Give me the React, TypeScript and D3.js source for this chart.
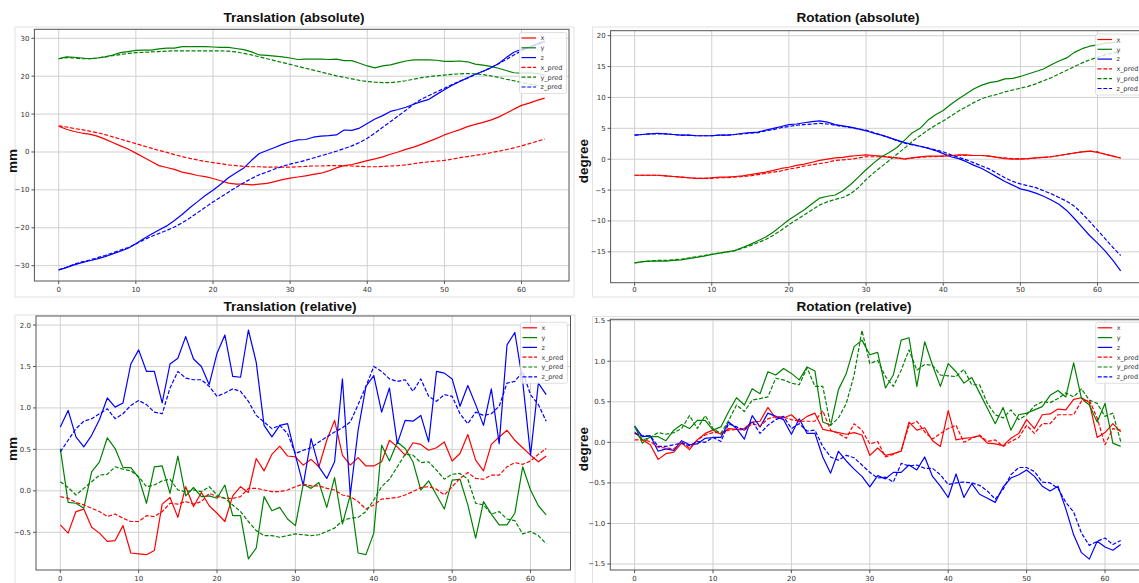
import * as d3 from "d3";

// ---- Translation (absolute), mm, frames 0..63
const transAbsX = [6.8, 6.0, 5.4, 5.0, 4.7, 4.2, 3.4, 2.5, 1.6, 0.8, -0.3, -1.4, -2.5, -3.6, -4.1, -4.6, -5.3, -5.7, -6.2, -6.5, -7.0, -7.6, -8.2, -8.5, -8.5, -8.7, -8.5, -8.3, -7.8, -7.3, -6.9, -6.6, -6.3, -5.9, -5.6, -5.0, -4.2, -3.6, -3.3, -2.8, -2.3, -1.8, -1.3, -0.6, 0.0, 0.7, 1.3, 2.0, 2.8, 3.6, 4.5, 5.2, 5.9, 6.7, 7.3, 7.8, 8.4, 9.2, 10.2, 11.3, 12.3, 12.9, 13.6, 14.2];
const transAbsY = [24.6, 25.1, 25.0, 24.8, 24.6, 24.8, 25.1, 25.6, 26.2, 26.5, 26.8, 26.9, 26.9, 27.2, 27.4, 27.4, 27.8, 27.8, 27.8, 27.8, 27.7, 27.6, 27.6, 27.3, 27.0, 26.4, 25.6, 25.5, 25.3, 25.1, 24.8, 24.4, 24.5, 24.5, 24.5, 24.4, 24.5, 24.1, 24.1, 23.4, 22.7, 22.2, 22.7, 23.0, 23.5, 24.0, 24.3, 24.3, 24.3, 24.2, 23.9, 23.9, 24.0, 23.8, 23.2, 22.9, 22.6, 22.1, 21.5, 20.9, 20.8, 20.9, 20.7, 20.3];
const transAbsZ = [-31.1, -30.5, -29.8, -29.2, -28.7, -28.2, -27.6, -26.9, -26.2, -25.4, -24.2, -22.9, -21.7, -20.6, -19.5, -18.1, -16.5, -14.7, -13.1, -11.5, -10.1, -8.5, -6.8, -5.5, -4.2, -2.2, -0.4, 0.4, 1.2, 2.0, 2.7, 3.2, 3.3, 3.9, 4.2, 4.3, 4.5, 5.8, 5.7, 6.3, 7.5, 8.7, 9.6, 10.7, 11.2, 11.8, 12.6, 13.3, 13.9, 15.2, 16.4, 17.6, 18.6, 19.6, 20.5, 21.3, 22.2, 23.3, 24.9, 26.3, 27.1, 27.6, 28.5, 29.3];
const transAbsXPred = [6.9, 6.6, 6.2, 5.9, 5.5, 5.1, 4.6, 4.0, 3.4, 2.8, 2.2, 1.6, 1.0, 0.4, -0.1, -0.7, -1.2, -1.7, -2.1, -2.5, -2.8, -3.1, -3.4, -3.6, -3.8, -3.9, -3.9, -4.0, -4.0, -4.0, -4.0, -3.9, -3.8, -3.7, -3.7, -3.6, -3.6, -3.6, -3.7, -3.8, -3.9, -3.9, -3.8, -3.7, -3.6, -3.4, -3.1, -2.8, -2.6, -2.4, -2.2, -1.9, -1.5, -1.2, -0.9, -0.6, -0.2, 0.2, 0.6, 1.1, 1.6, 2.2, 2.8, 3.4];
const transAbsYPred = [24.6, 24.9, 24.8, 24.6, 24.6, 24.8, 25.1, 25.4, 25.7, 26.0, 26.2, 26.3, 26.4, 26.5, 26.6, 26.7, 26.7, 26.7, 26.7, 26.7, 26.7, 26.7, 26.6, 26.4, 26.0, 25.6, 25.1, 24.6, 24.1, 23.6, 23.1, 22.6, 22.1, 21.6, 21.1, 20.6, 20.1, 19.7, 19.3, 18.9, 18.6, 18.4, 18.3, 18.3, 18.5, 18.8, 19.2, 19.6, 19.9, 20.1, 20.3, 20.5, 20.6, 20.7, 20.6, 20.4, 20.1, 19.7, 19.2, 18.8, 18.3, 17.9, 17.6, 17.3];
const transAbsZPred = [-31.1, -30.4, -29.6, -29.0, -28.5, -27.9, -27.3, -26.6, -25.9, -25.2, -24.3, -23.2, -22.3, -21.5, -20.7, -19.8, -18.7, -17.4, -16.0, -14.6, -13.2, -11.9, -10.6, -9.3, -8.1, -7.0, -6.0, -5.3, -4.5, -3.8, -3.2, -2.7, -2.2, -1.6, -1.0, -0.4, 0.2, 0.9, 1.6, 2.5, 3.6, 5.0, 6.5, 8.0, 9.5, 11.0, 12.6, 13.9, 14.9, 15.9, 16.8, 17.8, 18.7, 19.5, 20.4, 21.3, 22.2, 23.3, 24.4, 25.6, 26.7, 27.6, 28.4, 29.0];

// ---- Rotation (absolute), degree, frames 0..63
const rotAbsX = [-2.6, -2.6, -2.6, -2.6, -2.7, -2.8, -2.9, -3.0, -3.1, -3.1, -3.0, -2.9, -2.9, -2.8, -2.7, -2.5, -2.3, -2.1, -1.8, -1.5, -1.3, -1.0, -0.8, -0.5, -0.2, 0.0, 0.2, 0.3, 0.5, 0.6, 0.7, 0.6, 0.5, 0.3, 0.2, 0.0, 0.2, 0.4, 0.5, 0.5, 0.5, 0.6, 0.7, 0.7, 0.6, 0.6, 0.5, 0.3, 0.1, 0.0, 0.0, 0.1, 0.2, 0.3, 0.4, 0.6, 0.8, 1.0, 1.2, 1.3, 1.1, 0.8, 0.5, 0.2];
const rotAbsY = [-16.8, -16.6, -16.5, -16.5, -16.5, -16.4, -16.3, -16.1, -15.9, -15.7, -15.4, -15.2, -15.0, -14.8, -14.3, -13.8, -13.2, -12.6, -11.8, -10.8, -9.8, -9.0, -8.2, -7.2, -6.3, -6.0, -5.8, -5.1, -4.1, -2.9, -1.7, -0.6, 0.4, 1.1, 1.9, 3.1, 4.3, 5.0, 6.3, 7.2, 7.9, 8.9, 9.8, 10.6, 11.4, 12.0, 12.4, 12.6, 13.0, 13.1, 13.4, 13.8, 14.2, 14.6, 15.3, 15.9, 16.4, 17.3, 17.9, 18.3, 18.5, 18.8, 18.9, 18.9];
const rotAbsZ = [3.9, 4.0, 4.1, 4.2, 4.1, 4.0, 3.9, 3.9, 3.8, 3.8, 3.8, 3.9, 3.9, 4.0, 4.2, 4.3, 4.4, 4.7, 5.0, 5.3, 5.6, 5.7, 5.9, 6.1, 6.2, 6.0, 5.6, 5.4, 5.2, 4.9, 4.6, 4.2, 3.9, 3.5, 3.1, 2.7, 2.4, 2.1, 1.8, 1.4, 0.9, 0.4, 0.1, -0.4, -1.0, -1.5, -2.2, -2.9, -3.6, -4.2, -4.8, -5.1, -5.5, -6.0, -6.6, -7.3, -8.3, -9.6, -11.0, -12.4, -13.6, -14.9, -16.4, -18.1];
const rotAbsXPred = [-2.6, -2.6, -2.6, -2.6, -2.7, -2.8, -2.9, -3.0, -3.1, -3.1, -3.1, -3.0, -3.0, -2.9, -2.8, -2.7, -2.5, -2.3, -2.1, -1.9, -1.6, -1.4, -1.1, -0.9, -0.7, -0.5, -0.2, -0.1, 0.0, 0.2, 0.4, 0.4, 0.4, 0.4, 0.2, 0.1, 0.2, 0.3, 0.4, 0.4, 0.5, 0.6, 0.6, 0.6, 0.6, 0.6, 0.5, 0.3, 0.2, 0.1, 0.1, 0.1, 0.2, 0.3, 0.4, 0.6, 0.8, 1.0, 1.2, 1.3, 1.2, 0.8, 0.5, 0.2];
const rotAbsYPred = [-16.8, -16.6, -16.5, -16.4, -16.4, -16.3, -16.2, -16.0, -15.8, -15.6, -15.4, -15.2, -15.0, -14.8, -14.4, -14.0, -13.5, -13.0, -12.3, -11.5, -10.6, -9.8, -9.0, -8.2, -7.4, -6.9, -6.5, -6.2, -5.6, -4.6, -3.3, -2.2, -1.2, -0.2, 0.8, 1.8, 2.9, 3.8, 4.7, 5.5, 6.2, 7.0, 7.8, 8.5, 9.2, 9.8, 10.2, 10.5, 10.9, 11.2, 11.5, 11.8, 12.2, 12.7, 13.2, 13.8, 14.4, 15.0, 15.6, 16.1, 16.5, 16.9, 17.2, 17.5];
const rotAbsZPred = [3.9, 4.0, 4.1, 4.1, 4.1, 4.0, 3.9, 3.9, 3.8, 3.8, 3.8, 3.9, 3.9, 4.0, 4.1, 4.2, 4.3, 4.6, 4.8, 5.1, 5.3, 5.5, 5.6, 5.7, 5.8, 5.7, 5.5, 5.3, 5.1, 4.9, 4.7, 4.3, 3.9, 3.5, 3.0, 2.6, 2.3, 2.1, 1.8, 1.5, 1.2, 0.7, 0.3, -0.1, -0.6, -1.1, -1.6, -2.3, -3.0, -3.6, -4.0, -4.3, -4.6, -5.1, -5.6, -6.2, -6.8, -7.6, -8.8, -10.1, -11.5, -12.9, -14.3, -15.6];

// ---- Translation (relative), mm, frames 0..62
const transRelX = [-0.41, -0.51, -0.25, -0.22, -0.44, -0.51, -0.61, -0.60, -0.42, -0.75, -0.76, -0.77, -0.72, -0.16, -0.08, -0.32, 0.05, -0.19, -0.02, -0.18, -0.27, -0.37, -0.06, 0.05, -0.02, 0.39, 0.24, 0.44, 0.54, 0.42, 0.41, 0.31, 0.38, 0.29, 0.61, 0.85, 0.43, 0.31, 0.40, 0.30, 0.30, 0.35, 0.61, 0.53, 0.43, 0.58, 0.56, 0.49, 0.52, 0.59, 0.36, 0.45, 0.68, 0.37, 0.24, 0.56, 0.65, 0.73, 0.61, 0.52, 0.43, 0.35, 0.42];
const transRelY = [0.51, -0.14, -0.15, -0.21, 0.23, 0.35, 0.64, 0.51, 0.28, 0.28, 0.16, -0.15, 0.29, 0.30, -0.03, 0.42, -0.06, 0.04, -0.07, -0.06, -0.09, 0.07, -0.30, -0.30, -0.82, -0.69, -0.07, -0.24, -0.20, -0.34, -0.42, 0.08, 0.03, 0.10, -0.20, 0.16, -0.40, -0.05, -0.75, -0.77, -0.51, 0.55, 0.36, 0.59, 0.51, 0.35, 0.01, 0.12, -0.05, -0.22, 0.13, 0.14, -0.17, -0.57, -0.13, -0.28, -0.41, -0.41, -0.27, 0.29, 0.01, -0.18, -0.29];
const transRelZ = [0.77, 0.97, 0.65, 0.53, 0.67, 0.86, 1.12, 1.01, 1.06, 1.53, 1.70, 1.44, 1.44, 1.06, 1.53, 1.60, 1.86, 1.59, 1.50, 1.28, 1.66, 1.88, 1.38, 1.37, 1.94, 1.55, 0.79, 0.65, 0.79, 0.81, 0.43, 0.07, 0.63, 0.29, 0.15, 0.35, 1.35, -0.05, 0.73, 1.26, 1.39, 0.95, 1.24, 0.57, 0.85, 0.84, 0.91, 0.59, 1.44, 1.42, 1.35, 1.02, 1.27, 1.04, 0.79, 1.23, 0.57, 1.76, 1.91, 1.32, 0.43, 1.30, 1.16];
const transRelXPred = [-0.07, -0.09, -0.14, -0.17, -0.21, -0.25, -0.31, -0.28, -0.33, -0.37, -0.37, -0.30, -0.31, -0.25, -0.15, -0.16, -0.13, -0.16, -0.13, -0.03, -0.07, -0.09, -0.09, -0.07, 0.03, 0.03, 0.01, -0.01, -0.01, 0.01, 0.05, 0.08, 0.06, 0.06, 0.03, 0.01, -0.05, -0.07, -0.13, -0.22, -0.17, -0.10, -0.09, -0.08, -0.05, -0.01, 0.04, 0.05, 0.02, -0.05, 0.05, 0.15, 0.22, 0.15, 0.14, 0.19, 0.19, 0.29, 0.34, 0.32, 0.36, 0.44, 0.51];
const transRelYPred = [0.11, 0.04, -0.05, 0.03, 0.11, 0.19, 0.20, 0.29, 0.26, 0.24, 0.17, 0.05, 0.07, 0.12, 0.14, 0.01, -0.01, 0.01, -0.01, 0.05, -0.05, -0.09, -0.17, -0.25, -0.37, -0.48, -0.54, -0.54, -0.56, -0.54, -0.52, -0.53, -0.54, -0.53, -0.49, -0.45, -0.36, -0.33, -0.32, -0.25, -0.11, 0.05, 0.14, 0.29, 0.44, 0.43, 0.34, 0.35, 0.25, 0.14, 0.20, 0.21, 0.14, -0.15, -0.17, -0.28, -0.25, -0.34, -0.36, -0.52, -0.49, -0.54, -0.64];
const transRelZPred = [0.47, 0.61, 0.75, 0.84, 0.87, 0.93, 0.99, 0.87, 0.93, 1.03, 1.09, 1.04, 0.95, 0.93, 1.24, 1.44, 1.36, 1.34, 1.34, 1.26, 1.14, 1.18, 1.23, 1.20, 1.08, 0.91, 0.83, 0.75, 0.79, 0.69, 0.45, 0.49, 0.52, 0.59, 0.65, 0.71, 0.76, 0.83, 1.04, 1.26, 1.50, 1.44, 1.35, 1.32, 1.34, 1.20, 1.35, 1.14, 1.08, 1.16, 1.14, 0.93, 0.81, 0.95, 0.91, 0.93, 1.02, 1.30, 1.32, 1.44, 1.16, 1.04, 0.84];

// ---- Rotation (relative), degree, frames 0..62
const rotRelX = [0.13, 0.03, -0.03, -0.21, -0.14, -0.12, -0.01, -0.09, 0.03, 0.11, 0.15, 0.10, 0.17, 0.16, 0.17, 0.25, 0.26, 0.43, 0.30, 0.30, 0.34, 0.25, 0.32, 0.36, 0.16, 0.14, 0.12, 0.10, 0.12, 0.09, -0.16, -0.07, -0.16, -0.14, -0.11, 0.25, 0.15, 0.18, 0.02, -0.05, 0.39, 0.03, 0.05, 0.06, 0.08, -0.01, -0.02, -0.04, 0.05, 0.11, 0.28, 0.17, 0.34, 0.35, 0.41, 0.40, 0.53, 0.55, 0.49, 0.06, 0.12, 0.23, 0.13];
const rotRelY = [0.20, -0.01, 0.07, 0.07, 0.02, 0.15, 0.22, 0.17, 0.27, 0.27, 0.15, 0.19, 0.38, 0.55, 0.46, 0.66, 0.60, 0.87, 0.83, 0.91, 0.85, 0.77, 0.93, 0.88, 0.25, 0.21, 0.65, 0.85, 1.18, 1.26, 1.08, 1.11, 0.67, 0.83, 1.26, 1.29, 0.69, 1.24, 0.95, 0.69, 0.97, 0.87, 0.73, 0.80, 0.61, 0.42, 0.23, 0.43, 0.15, 0.34, 0.36, 0.40, 0.44, 0.58, 0.64, 0.56, 0.98, 0.54, 0.46, 0.25, 0.48, -0.01, -0.05];
const rotRelZ = [0.20, 0.07, 0.08, -0.11, -0.08, -0.10, 0.02, -0.03, -0.02, 0.05, 0.06, 0.06, 0.25, 0.17, 0.04, 0.33, 0.19, 0.36, 0.32, 0.28, 0.10, 0.29, 0.11, 0.11, -0.18, -0.38, -0.11, -0.23, -0.33, -0.42, -0.55, -0.41, -0.45, -0.37, -0.37, -0.28, -0.34, -0.18, -0.42, -0.54, -0.68, -0.39, -0.68, -0.51, -0.64, -0.69, -0.74, -0.55, -0.44, -0.40, -0.34, -0.42, -0.54, -0.60, -0.54, -0.82, -1.14, -1.36, -1.44, -1.22, -1.29, -1.33, -1.26];
const rotRelXPred = [0.03, 0.03, 0.01, -0.06, -0.07, -0.08, 0.01, -0.07, 0.03, 0.09, 0.12, 0.12, 0.15, 0.16, 0.15, 0.23, 0.20, 0.29, 0.32, 0.31, 0.28, 0.26, 0.26, 0.26, 0.39, 0.15, 0.11, 0.05, 0.23, 0.15, -0.02, 0.01, -0.18, -0.15, -0.10, 0.21, 0.26, 0.13, 0.04, 0.11, 0.17, 0.21, 0.00, 0.05, 0.09, 0.01, 0.03, -0.05, 0.01, 0.06, 0.21, 0.11, 0.23, 0.23, 0.34, 0.34, 0.34, 0.51, 0.52, 0.30, -0.03, 0.17, 0.15];
const rotRelYPred = [0.20, 0.03, 0.06, 0.12, 0.10, 0.12, 0.17, 0.33, 0.17, 0.33, 0.17, 0.11, 0.27, 0.46, 0.38, 0.52, 0.54, 0.56, 0.79, 0.77, 0.73, 0.71, 0.92, 0.69, 0.69, 0.21, 0.30, 0.48, 0.83, 1.38, 0.97, 1.01, 0.81, 0.69, 0.89, 1.14, 0.89, 0.96, 0.95, 0.83, 0.82, 0.81, 0.90, 0.71, 0.71, 0.48, 0.34, 0.30, 0.40, 0.28, 0.34, 0.45, 0.50, 0.49, 0.54, 0.61, 0.56, 0.66, 0.52, 0.48, 0.32, 0.36, 0.01];
const rotRelZPred = [0.11, 0.08, 0.08, -0.05, -0.05, -0.03, -0.01, -0.04, 0.01, 0.00, 0.06, 0.01, 0.23, 0.19, 0.15, 0.26, 0.11, 0.21, 0.28, 0.32, 0.17, 0.23, 0.14, 0.15, -0.05, -0.18, -0.22, -0.16, -0.19, -0.28, -0.37, -0.44, -0.43, -0.49, -0.26, -0.29, -0.28, -0.32, -0.32, -0.40, -0.52, -0.50, -0.49, -0.50, -0.53, -0.60, -0.70, -0.58, -0.40, -0.31, -0.31, -0.36, -0.49, -0.50, -0.57, -0.74, -0.86, -1.12, -1.27, -1.22, -1.18, -1.26, -1.21];

const X_TICKS = [0, 10, 20, 30, 40, 50, 60];
const TRANS_ABS_TICKS = [-30, -20, -10, 0, 10, 20, 30];
const ROT_ABS_TICKS = [-15, -10, -5, 0, 5, 10, 15, 20];
const TRANS_REL_TICKS = [-0.5, 0, 0.5, 1.0, 1.5, 2.0];
const ROT_REL_TICKS = [-1.5, -1.0, -0.5, 0, 0.5, 1.0, 1.5];
const LEGEND_LABELS = ["x", "y", "z", "x_pred", "y_pred", "z_pred"];

const RED = "#ff0000";
const GREEN = "#008000";
const BLUE = "#0000ff";
const FONT = "'DejaVu Sans', sans-serif";

type Series = { label: string; values: number[]; color: string; dashed: boolean };

const makeSeries = (vals: number[][]): Series[] =>
  vals.map((values, i) => ({
    label: LEGEND_LABELS[i],
    values,
    color: [RED, GREEN, BLUE][i % 3],
    dashed: i >= 3,
  }));

const minus = (s: string) => s.replace("-", "\u2212");

const PANELS = [
  {
    id: "ta",
    title: "Translation (absolute)",
    titleX: 294, titleY: 22, titleLen: 141,
    ylabel: "mm", ylabelX: 16.6, ylabelY: 161,
    frame: { x: 15, y: 27, w: 559, h: 270 },
    box: { left: 34.4, right: 569, top: 29.3, bottom: 281 },
    xDomain: [-3.15, 66.15], yDomain: [-34.04, 32.37],
    yTicks: TRANS_ABS_TICKS, fmt: (v: number) => minus(d3.format("d")(v)),
    xLabelY: 291.5,
    legend: { x: 519.5, y: 32.5, w: 47, h: 61 },
    series: makeSeries([transAbsX, transAbsY, transAbsZ, transAbsXPred, transAbsYPred, transAbsZPred]),
  },
  {
    id: "ra",
    title: "Rotation (absolute)",
    titleX: 858, titleY: 22, titleLen: 123,
    ylabel: "degree", ylabelX: 588, ylabelY: 161,
    frame: { x: 592.5, y: 27, w: 600, h: 270 },
    box: { left: 610.6, right: 1145, top: 30.7, bottom: 282.7 },
    xDomain: [-3.11, 66.15], yDomain: [-20.0, 20.81],
    yTicks: ROT_ABS_TICKS, fmt: (v: number) => minus(d3.format("d")(v)),
    xLabelY: 292,
    legend: { x: 1095.5, y: 34, w: 60, h: 61 },
    series: makeSeries([rotAbsX, rotAbsY, rotAbsZ, rotAbsXPred, rotAbsYPred, rotAbsZPred]),
  },
  {
    id: "tr",
    title: "Translation (relative)",
    titleX: 290, titleY: 311, titleLen: 133,
    ylabel: "mm", ylabelX: 16.6, ylabelY: 449,
    frame: { x: 15, y: 315, w: 560, h: 300 },
    box: { left: 36, right: 570.5, top: 316, bottom: 570 },
    xDomain: [-3.1, 65.1], yDomain: [-0.955, 2.109],
    yTicks: TRANS_REL_TICKS, fmt: (v: number) => minus(d3.format(".1f")(v)),
    xLabelY: 580.5,
    legend: { x: 520.5, y: 322.3, w: 47, h: 61 },
    series: makeSeries([transRelX, transRelY, transRelZ, transRelXPred, transRelYPred, transRelZPred]),
  },
  {
    id: "rr",
    title: "Rotation (relative)",
    titleX: 854, titleY: 311, titleLen: 115,
    ylabel: "degree", ylabelX: 588, ylabelY: 449,
    frame: { x: 592.5, y: 316.5, w: 600, h: 300 },
    box: { left: 610.3, right: 1145, top: 319.3, bottom: 570 },
    xDomain: [-3.1, 65.1], yDomain: [-1.574, 1.517],
    yTicks: ROT_REL_TICKS, fmt: (v: number) => d3.format(".1f")(v),
    xLabelY: 580.5,
    legend: { x: 1095.7, y: 322.3, w: 60, h: 61 },
    series: makeSeries([rotRelX, rotRelY, rotRelZ, rotRelXPred, rotRelYPred, rotRelZPred]),
  },
];

const Panel = ({ p }: { p: (typeof PANELS)[number] }) => {
  const { box } = p;
  const xScale = d3.scaleLinear().domain(p.xDomain).range([box.left, box.right]);
  const yScale = d3.scaleLinear().domain(p.yDomain).range([box.bottom, box.top]);
  const line = d3
    .line<number>()
    .x((_, i) => xScale(i))
    .y((d) => yScale(d));
  const clipId = `clip-${p.id}`;

  return (
    <g>
      {/* screenshot frame */}
      <rect x={p.frame.x} y={p.frame.y} width={p.frame.w} height={p.frame.h} fill="none" stroke="#e2e2e2" strokeWidth={1} />
      <text
        x={p.titleX}
        y={p.titleY}
        textAnchor="middle"
        fontFamily="'Liberation Sans', Arial, sans-serif"
        fontWeight="bold"
        fontSize={13.5}
        textLength={p.titleLen}
        lengthAdjust="spacingAndGlyphs"
        fill="#111"
      >
        {p.title}
      </text>
      <text
        transform={`translate(${p.ylabelX},${p.ylabelY}) rotate(-90)`}
        textAnchor="middle"
        fontFamily="'Liberation Sans', Arial, sans-serif"
        fontWeight="bold"
        fontSize={13.5}
        fill="#111"
      >
        {p.ylabel}
      </text>

      <clipPath id={clipId}>
        <rect x={box.left} y={box.top} width={box.right - box.left} height={box.bottom - box.top} />
      </clipPath>

      {/* grid */}
      <g stroke="#d0d0d0" strokeWidth={1}>
        {X_TICKS.map((t) => (
          <line key={`gx${t}`} x1={xScale(t)} x2={xScale(t)} y1={box.top} y2={box.bottom} />
        ))}
        {p.yTicks.map((t) => (
          <line key={`gy${t}`} x1={box.left} x2={box.right} y1={yScale(t)} y2={yScale(t)} />
        ))}
      </g>

      {/* data */}
      <g clipPath={`url(#${clipId})`} fill="none">
        {p.series.map((s) => (
          <path
            key={s.label}
            d={line(s.values) || ""}
            stroke={s.color}
            strokeWidth={1.2}
            strokeDasharray={s.dashed ? "4,1.8" : undefined}
            strokeLinejoin="round"
          />
        ))}
      </g>

      {/* spines */}
      <rect
        x={box.left}
        y={box.top}
        width={box.right - box.left}
        height={box.bottom - box.top}
        fill="none"
        stroke="#555"
        strokeWidth={1}
      />

      {/* ticks */}
      <g fontFamily={FONT} fontSize={7} fill="#333">
        {X_TICKS.map((t) => (
          <g key={`tx${t}`}>
            <line x1={xScale(t)} x2={xScale(t)} y1={box.bottom} y2={box.bottom + 3} stroke="#555" />
            <text x={xScale(t)} y={p.xLabelY} textAnchor="middle">
              {t}
            </text>
          </g>
        ))}
        {p.yTicks.map((t) => (
          <g key={`ty${t}`}>
            <line x1={box.left - 3} x2={box.left} y1={yScale(t)} y2={yScale(t)} stroke="#555" />
            <text x={box.left - 5} y={yScale(t) + 2.5} textAnchor="end">
              {p.fmt(t)}
            </text>
          </g>
        ))}
      </g>

      {/* legend */}
      <g>
        <rect
          x={p.legend.x}
          y={p.legend.y}
          width={p.legend.w}
          height={p.legend.h}
          rx={2}
          fill="#fff"
          fillOpacity={0.8}
          stroke="#d8d8d8"
          strokeWidth={0.8}
        />
        {p.series.map((s, i) => {
          const ly = p.legend.y + 5.5 + i * 9.8;
          return (
            <g key={`lg${s.label}`}>
              <line
                x1={p.legend.x + 2}
                x2={p.legend.x + 16.5}
                y1={ly}
                y2={ly}
                stroke={s.color}
                strokeWidth={1.2}
                strokeDasharray={s.dashed ? "4,1.8" : undefined}
              />
              <text x={p.legend.x + 21} y={ly + 2.3} fontFamily={FONT} fontSize={6.5} fill="#333">
                {s.label}
              </text>
            </g>
          );
        })}
      </g>
    </g>
  );
};

export default function App() {
  return (
    <svg
      width={1139}
      height={583}
      viewBox="0 0 1139 583"
      style={{ position: "absolute", left: 0, top: 0, background: "#fff" }}
    >
      <rect width={1139} height={583} fill="#fff" />
      {PANELS.map((p) => (
        <Panel key={p.id} p={p} />
      ))}
    </svg>
  );
}
